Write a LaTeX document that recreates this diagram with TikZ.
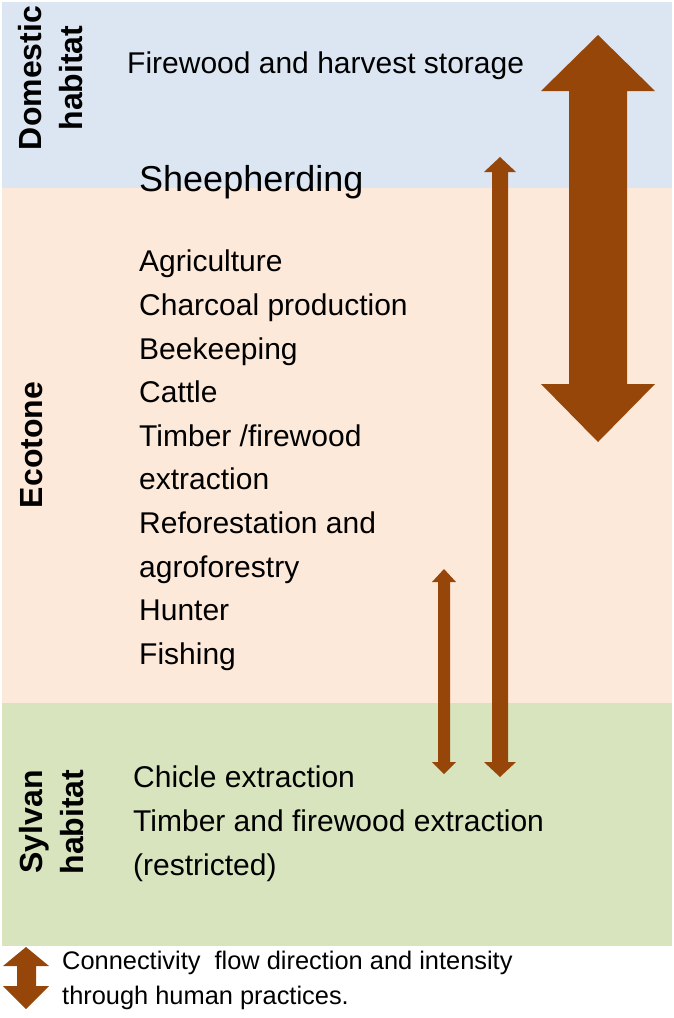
\documentclass[tikz,border=0pt]{standalone}
\usepackage{fontspec}
\setmainfont{Liberation Sans}
\definecolor{domfill}{RGB}{220,230,242}
\definecolor{ecofill}{RGB}{253,233,218}
\definecolor{sylfill}{RGB}{215,228,189}
\definecolor{arrowc}{RGB}{150,70,8}
\tikzset{
  zonelabel/.style={rotate=90, align=center, inner sep=0pt, font=\fontsize{32}{41}\selectfont\bfseries},
  itemtext/.style={anchor=north west, align=left, inner sep=0pt, font=\fontsize{30}{43.6}\selectfont},
  legendtext/.style={anchor=north west, align=left, inner sep=0pt, font=\fontsize{25.4}{35}\selectfont},
  flow/.style={fill=arrowc}
}
\begin{document}
\begin{tikzpicture}[x=1pt,y=-1pt]
\useasboundingbox (0,0) rectangle (674,1018);
% bands
\fill[domfill] (2,2) rectangle (672,188);
\fill[ecofill] (2,188) rectangle (672,703);
\fill[sylfill] (2,703) rectangle (672,946);
% zone labels
\node[zonelabel] (dom) at (51,78) {Domestic\\habitat};
\node[zonelabel] (eco) at (32,445) {Ecotone};
\node[zonelabel] (syl) at (52,822) {Sylvan\\habitat};
% texts
\node[anchor=west, inner sep=0pt, font=\fontsize{30}{36}\selectfont] (store) at (127,66) {Firewood and harvest storage};
\node[anchor=west, inner sep=0pt, font=\fontsize{36}{42}\selectfont] (sheep) at (139,182) {Sheepherding};
\node[itemtext] (ecolist) at (139,250) {Agriculture\\Charcoal production\\Beekeeping\\Cattle\\Timber /firewood\\extraction\\Reforestation and\\agroforestry\\Hunter\\Fishing};
\node[itemtext] (sylist) at (133,766) {Chicle extraction\\Timber and firewood extraction\\(restricted)};
% big double arrow
\coordinate (bigtop) at (598,35);
\coordinate (bigbot) at (598,442);
\fill[flow] (bigtop) -- (655,91) -- (627,91) -- (627,384) -- (655,384) -- (bigbot) -- (541,384) -- (569,384) -- (569,91) -- (541,91) -- cycle;
% medium double arrow
\coordinate (medtop) at (500,157);
\coordinate (medbot) at (500,777);
\fill[flow] (medtop) -- (516,172) -- (508,172) -- (508,762) -- (516,762) -- (medbot) -- (484,762) -- (492,762) -- (492,172) -- (484,172) -- cycle;
% small double arrow
\coordinate (smtop) at (444,569);
\coordinate (smbot) at (444,774);
\fill[flow] (smtop) -- (456,582) -- (450,582) -- (450,762) -- (456,762) -- (smbot) -- (432,762) -- (438,762) -- (438,582) -- (432,582) -- cycle;
% legend
\coordinate (legtop) at (26,947);
\coordinate (legbot) at (26,1009);
\fill[flow] (legtop) -- (49,966) -- (36,966) -- (36,986) -- (49,986) -- (legbot) -- (3,986) -- (17,986) -- (17,966) -- (3,966) -- cycle;
\node[legendtext] (legend) at (62,951) {Connectivity\ \ flow direction and intensity\\through human practices.};
\end{tikzpicture}
\end{document}
